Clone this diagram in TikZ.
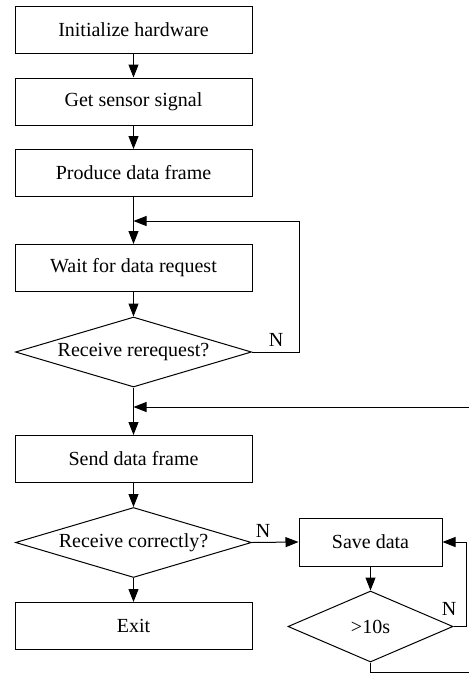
\documentclass[tikz,border=0pt]{standalone}
\usepackage{fontspec}
\setmainfont{Liberation Serif}
\usetikzlibrary{shapes.geometric,arrows.meta}
\begin{document}
\begin{tikzpicture}[x=1pt,y=-1pt,
  font=\fontsize{20}{24}\selectfont,
  line width=1pt,
  procbox/.style={draw, rectangle, minimum width=237pt, minimum height=47pt, inner sep=0pt},
  smallbox/.style={draw, rectangle, minimum width=143pt, minimum height=48pt, inner sep=0pt},
  decide/.style={draw, diamond, aspect=3.37, minimum width=236pt, minimum height=70pt, inner sep=0pt},
  smalldecide/.style={draw, diamond, aspect=2.3, minimum width=165pt, minimum height=71pt, inner sep=0pt},
  flow/.style={-{Triangle[length=13pt,width=10pt]}},
  lbl/.style={inner sep=0pt}
]
\useasboundingbox (0,0) rectangle (469,673);

\node[procbox] (b1) at (133.5,30) {Initialize hardware};
\node[procbox] (b2) at (133.5,101.5) {Get sensor signal};
\node[procbox] (b3) at (133.5,173) {Produce data frame};
\node[procbox] (wait) at (133.5,268) {Wait for data request};
\node[decide] (d1) at (133.5,352) {Receive rerequest?};
\node[procbox] (send) at (133.5,459) {Send data frame};
\node[decide] (d2) at (133.5,542.5) {Receive correctly?};
\node[procbox] (exit) at (133.5,626) {Exit};
\node[smallbox] (save) at (370.5,542) {Save data};
\node[smalldecide] (d3) at (370.5,626.5) {>10s};

\coordinate (j1) at (133.5,221);
\coordinate (r1a) at (299,352);
\coordinate (r1b) at (299,221);
\coordinate (j2) at (133.5,407);
\coordinate (in2) at (469,407);
\coordinate (r3a) at (466,626.5);
\coordinate (r3b) at (466,542);
\coordinate (bot1) at (370.5,672);
\coordinate (bot2) at (469,672);

\draw[flow] (b1) -- (b2);
\draw[flow] (b2) -- (b3);
\draw[flow] (b3) -- (wait);
\draw[flow] (d1.east) -- (r1a) -- (r1b) -- (j1);
\draw[flow] (wait) -- (d1);
\draw[flow] (d1) -- (send);
\draw[flow] (in2) -- (j2);
\draw[flow] (send) -- (d2);
\draw[flow] (d2) -- (exit);
\draw[flow] (d2.east) -- (save.west);
\draw[flow] (save) -- (d3);
\draw[flow] (d3.east) -- (r3a) -- (r3b) -- (save.east);
\draw (d3.south) -- (bot1) -- (bot2);

\node[lbl] (n1) at (276,340) {N};
\node[lbl] (n2) at (263,531) {N};
\node[lbl] (n3) at (449,609) {N};
\end{tikzpicture}
\end{document}
